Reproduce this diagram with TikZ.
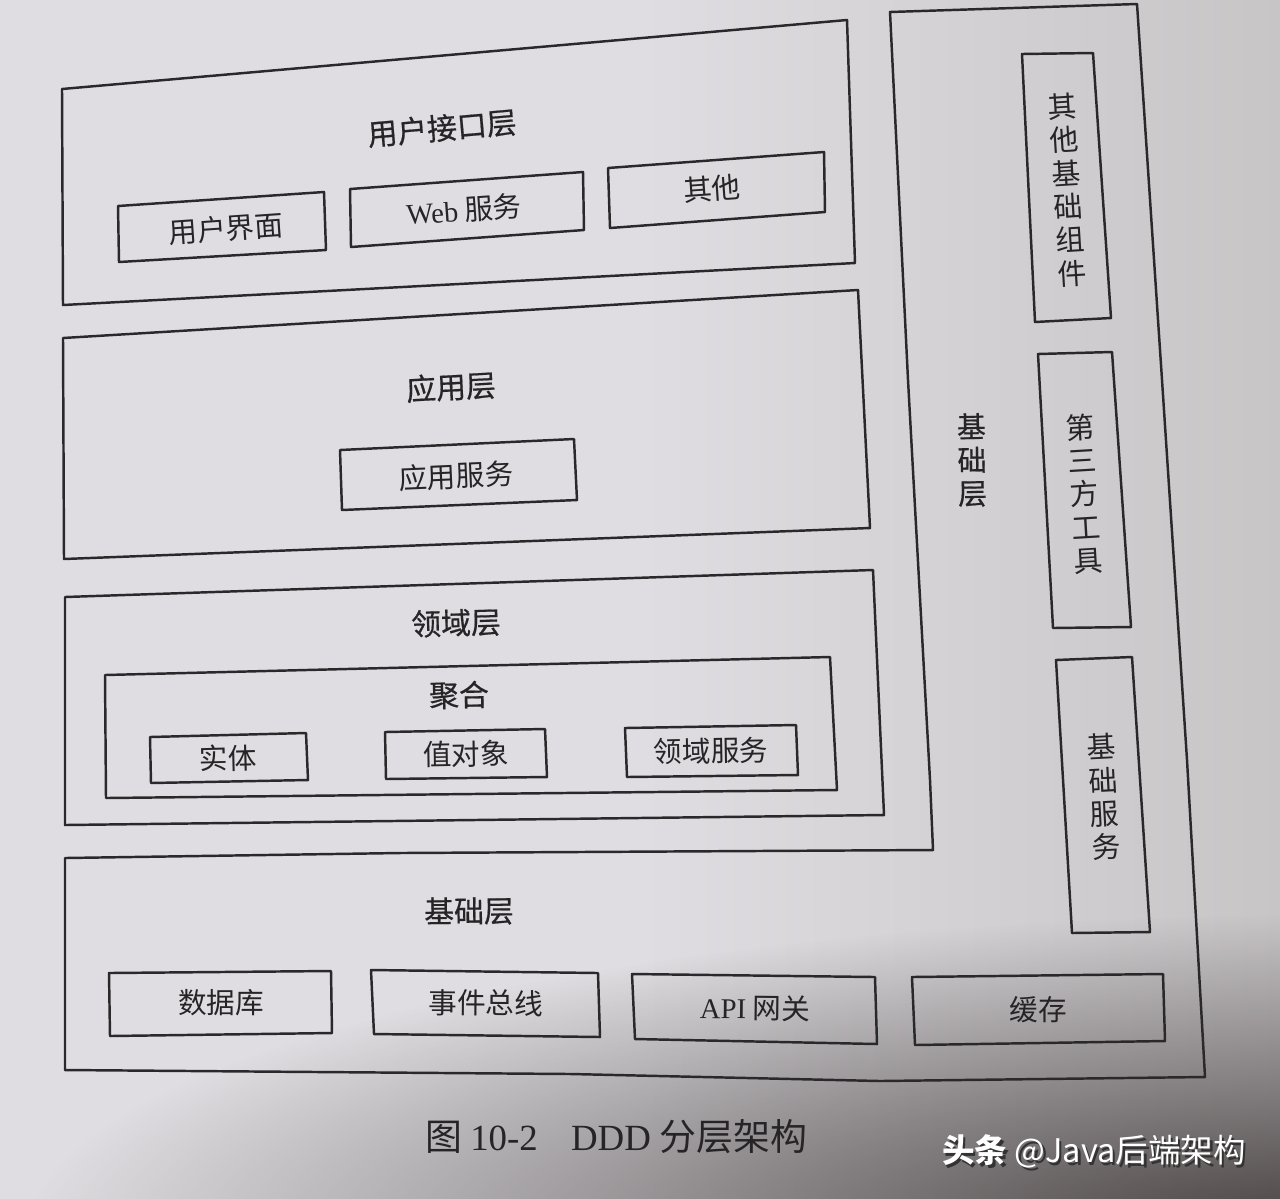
\documentclass[tikz,border=0pt]{standalone}
\usepackage{fontspec}
\setmainfont{Liberation Serif}
\newfontfamily\cjk{Noto Sans CJK SC}
\newfontfamily\cjkh{Noto Sans CJK SC}[FakeBold=0.6]
\usetikzlibrary{fadings}
\definecolor{paper}{RGB}{223,221,225}
\definecolor{paperR}{RGB}{200,197,199}
\definecolor{shadowc}{RGB}{70,64,64}
\definecolor{ink}{RGB}{42,40,42}
\definecolor{txt}{RGB}{38,36,38}
\tikzfading[name=cornerfade, inner color=transparent!0, outer color=transparent!100]
\newcommand{\lat}[1]{{\rmfamily #1}}
\newcommand{\wmtext}{\textbf{头条} @Java后端架构}
\tikzset{
  box/.style={draw=ink, line width=1.4pt, line join=round},
  lbl/.style={font=\cjk\fontsize{16.3}{19}\selectfont, text=txt, inner sep=0pt},
  ttl/.style={font=\cjkh\fontsize{17}{20}\selectfont, text=txt, inner sep=0pt},
  vlbl/.style={font=\cjk\fontsize{16.5}{19}\selectfont, text=txt, inner sep=0pt, align=center},
}
\begin{document}
\begin{tikzpicture}[x=0.02cm,y=-0.02cm]
\useasboundingbox (0,0) rectangle (1280,1198);
% paper background
\shade[left color=paper, right color=paperR, middle color=paper] (0,0) rectangle (1280,1198);
\fill[shadowc, path fading=cornerfade] (1330,1235) ellipse [x radius=1300, y radius=320];

% infrastructure layer (L shape)
\draw[box] (890,12) -- (1137,4) -- (1162,380) -- (1187,760) -- (1205,1077)
  -- (880,1081) -- (571,1074) -- (65,1070) -- (65,858) -- (400,853) -- (933,850)
  -- (930,780) -- (908,380) -- cycle;

% user interface layer
\draw[box] (62,89) -- (847,20) -- (855,263) -- (63,305) -- cycle;
\node[ttl, rotate=5] (ui) at (442,128) {用户接口层};
\draw[box] (118,206) -- (324,192) -- (326,250) -- (119,262) -- cycle;
\node[lbl, rotate=4] (uiview) at (226,229) {用户界面};
\draw[box] (350,189) -- (583,172) -- (584,230) -- (351,247) -- cycle;
\node[lbl, rotate=4] (web) at (464,210) {\lat{Web} 服务};
\draw[box] (608,168) -- (824,152) -- (825,212) -- (610,228) -- cycle;
\node[lbl, rotate=4] (uiother) at (712,189) {其他};

% application layer
\draw[box] (63,338) -- (858,290) -- (870,528) -- (64,559) -- cycle;
\node[ttl, rotate=3] (app) at (451,387) {应用层};
\draw[box] (340,450) -- (574,439) -- (577,500) -- (342,510) -- cycle;
\node[lbl, rotate=2.5] (appsvc) at (456,476) {应用服务};

% domain layer
\draw[box] (65,597) -- (873,570) -- (884,815) -- (65,825) -- cycle;
\node[ttl, rotate=1.5] (dom) at (456,623) {领域层};
\draw[box] (105,675) -- (830,657) -- (837,790) -- (106,798) -- cycle;
\node[ttl, rotate=1] (agg) at (459,695) {聚合};
\draw[box] (150,737) -- (306,733) -- (308,780) -- (151,783) -- cycle;
\node[lbl, rotate=1.5] (entity) at (228,758) {实体};
\draw[box] (385,732) -- (545,729) -- (547,777) -- (386,779) -- cycle;
\node[lbl, rotate=1] (vo) at (466,754) {值对象};
\draw[box] (625,728) -- (796,725) -- (798,775) -- (627,777) -- cycle;
\node[lbl, rotate=1] (domsvc) at (711,751) {领域服务};

% infrastructure labels and boxes
\node[ttl, rotate=0.5] (infra) at (469,911) {基础层};
\node[vlbl, font=\cjkh\fontsize{16.5}{19}\selectfont, rotate=1] (infrav) at (972,460) {基\\础\\层};
\draw[box] (109,973) -- (331,971) -- (332,1033) -- (110,1036) -- cycle;
\node[lbl] (db) at (221,1003) {数据库};
\draw[box] (371,970) -- (598,973) -- (600,1037) -- (374,1034) -- cycle;
\node[lbl, rotate=-0.5] (bus) at (486,1003) {事件总线};
\draw[box] (632,974) -- (875,977) -- (877,1044) -- (635,1039) -- cycle;
\node[lbl, rotate=-0.7] (api) at (755,1008) {\lat{API} 网关};
\draw[box] (912,977) -- (1163,974) -- (1165,1041) -- (915,1045) -- cycle;
\node[lbl] (cache) at (1038,1010) {缓存};

\draw[box] (1022,54) -- (1093,53) -- (1111,318) -- (1035,322) -- cycle;
\node[vlbl, rotate=3.5] (otherinfra) at (1067,190) {其\\他\\基\\础\\组\\件};
\draw[box] (1038,354) -- (1112,352) -- (1131,627) -- (1053,628) -- cycle;
\node[vlbl, rotate=3.4] (third) at (1084,494) {第\\三\\方\\工\\具};
\draw[box] (1056,660) -- (1132,657) -- (1150,932) -- (1072,933) -- cycle;
\node[vlbl, rotate=3] (basesvc) at (1104,797) {基\\础\\服\\务};

% caption
\node[font=\cjk\fontsize{21}{24}\selectfont, text=txt, inner sep=0pt] (cap) at (616,1137)
  {图 \lat{10-2}\hspace{0.9em}\lat{DDD} 分层架构};

% watermark (white text with a drop shadow, in one node)
\node[font=\cjk\fontsize{18.5}{22}\selectfont, inner sep=0pt] (wm) at (1094,1153)
  {\makebox[0pt][l]{\hspace{1.4pt}\raisebox{-1.4pt}{\textcolor{black!80}{\wmtext}}}\textcolor{white}{\wmtext}};
\end{tikzpicture}
\end{document}
